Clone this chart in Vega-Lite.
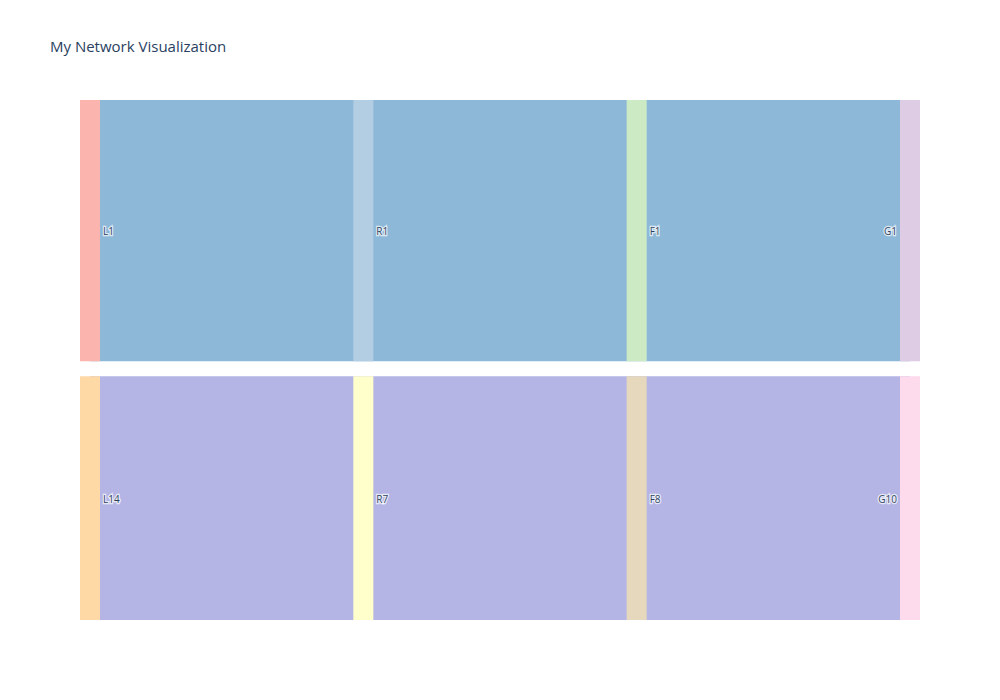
{
  "$schema": "https://vega.github.io/schema/vega-lite/v6.json",
  "width": 820,
  "height": 520,
  "autosize": {"type": "none"},
  "padding": {"left": 90, "top": 100, "right": 90, "bottom": 80},
  "background": "white",
  "title": {
    "text": "My Network Visualization",
    "anchor": "start",
    "frame": "group",
    "dx": -40,
    "offset": 33,
    "baseline": "alphabetic",
    "font": "Open Sans",
    "fontSize": 15,
    "fontWeight": "normal",
    "color": "#2a3f5f"
  },
  "config": {"view": {"stroke": null}},
  "datasets": {
    "nodes": [
      {"name": "L1", "stage": 0, "v0": 0, "v1": 15},
      {"name": "R1", "stage": 1, "v0": 0, "v1": 15},
      {"name": "F1", "stage": 2, "v0": 0, "v1": 15},
      {"name": "G1", "stage": 3, "v0": 0, "v1": 15},
      {"name": "L14", "stage": 0, "v0": 15.86, "v1": 29.86},
      {"name": "R7", "stage": 1, "v0": 15.86, "v1": 29.86},
      {"name": "F8", "stage": 2, "v0": 15.86, "v1": 29.86},
      {"name": "G10", "stage": 3, "v0": 15.86, "v1": 29.86}
    ],
    "links": [
      {"source": "L1", "target": "R1", "s": 0, "t": 1, "v0": 0, "v1": 15, "group": "top"},
      {"source": "R1", "target": "F1", "s": 1, "t": 2, "v0": 0, "v1": 15, "group": "top"},
      {"source": "F1", "target": "G1", "s": 2, "t": 3, "v0": 0, "v1": 15, "group": "top"},
      {"source": "L14", "target": "R7", "s": 0, "t": 1, "v0": 15.86, "v1": 29.86, "group": "bottom"},
      {"source": "R7", "target": "F8", "s": 1, "t": 2, "v0": 15.86, "v1": 29.86, "group": "bottom"},
      {"source": "F8", "target": "G10", "s": 2, "t": 3, "v0": 15.86, "v1": 29.86, "group": "bottom"}
    ]
  },
  "layer": [
    {
      "data": {"name": "links"},
      "mark": {"type": "rect"},
      "encoding": {
        "x": {"field": "s", "type": "quantitative", "scale": {"domain": [0, 3], "nice": false, "zero": false, "padding": 0}, "axis": null},
        "x2": {"field": "t"},
        "y": {"field": "v0", "type": "quantitative", "scale": {"domain": [0, 29.86], "nice": false, "zero": false, "reverse": true, "padding": 0}, "axis": null},
        "y2": {"field": "v1"},
        "color": {"field": "group", "type": "nominal", "scale": {"domain": ["top", "bottom"], "range": ["#8db8d8", "#b5b5e5"]}, "legend": null}
      }
    },
    {
      "data": {"name": "nodes"},
      "mark": {"type": "bar", "size": 20, "orient": "vertical"},
      "encoding": {
        "x": {"field": "stage", "type": "quantitative"},
        "y": {"field": "v0", "type": "quantitative"},
        "y2": {"field": "v1"},
        "fill": {"field": "name", "type": "nominal", "scale": {"domain": ["L1", "R1", "F1", "G1", "L14", "R7", "F8", "G10"], "range": ["#fbb4ae", "#b3cde3", "#ccebc5", "#decbe4", "#fed9a6", "#ffffcc", "#e5d8bd", "#fddaec"]}, "legend": null}
      }
    },
    {
      "data": {"name": "nodes"},
      "transform": [{"filter": "datum.stage < 3"}, {"calculate": "(datum.v0 + datum.v1) / 2", "as": "mid"}],
      "mark": {"type": "text", "align": "left", "baseline": "middle", "dx": 13, "dy": 1.5, "font": "Open Sans", "fontSize": 10, "stroke": "white", "strokeWidth": 2.5, "strokeOpacity": 0.7, "fill": "white"},
      "encoding": {
        "x": {"field": "stage", "type": "quantitative"},
        "y": {"field": "mid", "type": "quantitative"},
        "text": {"field": "name"}
      }
    },
    {
      "data": {"name": "nodes"},
      "transform": [{"filter": "datum.stage < 3"}, {"calculate": "(datum.v0 + datum.v1) / 2", "as": "mid"}],
      "mark": {"type": "text", "align": "left", "baseline": "middle", "dx": 13, "dy": 1.5, "font": "Open Sans", "fontSize": 10, "fill": "#2a3f5f"},
      "encoding": {
        "x": {"field": "stage", "type": "quantitative"},
        "y": {"field": "mid", "type": "quantitative"},
        "text": {"field": "name"}
      }
    },
    {
      "data": {"name": "nodes"},
      "transform": [{"filter": "datum.stage == 3"}, {"calculate": "(datum.v0 + datum.v1) / 2", "as": "mid"}],
      "mark": {"type": "text", "align": "right", "baseline": "middle", "dx": -13, "dy": 1.5, "font": "Open Sans", "fontSize": 10, "stroke": "white", "strokeWidth": 2.5, "strokeOpacity": 0.7, "fill": "white"},
      "encoding": {
        "x": {"field": "stage", "type": "quantitative"},
        "y": {"field": "mid", "type": "quantitative"},
        "text": {"field": "name"}
      }
    },
    {
      "data": {"name": "nodes"},
      "transform": [{"filter": "datum.stage == 3"}, {"calculate": "(datum.v0 + datum.v1) / 2", "as": "mid"}],
      "mark": {"type": "text", "align": "right", "baseline": "middle", "dx": -13, "dy": 1.5, "font": "Open Sans", "fontSize": 10, "fill": "#2a3f5f"},
      "encoding": {
        "x": {"field": "stage", "type": "quantitative"},
        "y": {"field": "mid", "type": "quantitative"},
        "text": {"field": "name"}
      }
    }
  ],
  "resolve": {"scale": {"color": "independent", "fill": "independent"}}
}
